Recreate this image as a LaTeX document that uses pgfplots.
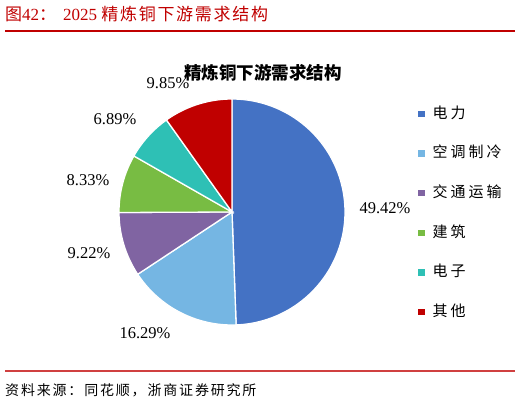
\documentclass[border=0pt]{standalone}
\usepackage{fontspec}
\setmainfont{Liberation Serif}
\newfontfamily\cjk{Noto Sans CJK SC}
\newfontfamily\cjkt{Noto Sans CJK SC}[LetterSpace=10]
\newfontfamily\cjkl{Noto Sans CJK SC}[LetterSpace=20]
\newfontfamily\cjks{Noto Sans CJK SC}[LetterSpace=13]
\usepackage{pgfplots}
\usepackage{pgfplotstable}
\pgfplotsset{compat=1.18}

\definecolor{c0}{HTML}{4472C4}
\definecolor{c1}{HTML}{75B6E3}
\definecolor{c2}{HTML}{8064A2}
\definecolor{c3}{HTML}{78BC43}
\definecolor{c4}{HTML}{2EC0B5}
\definecolor{c5}{HTML}{C00000}
\definecolor{zsred}{HTML}{C00000}

% share in %, clockwise from 12 o'clock
\pgfplotstableread{
name share
电力 49.42
空调制冷 16.29
交通运输 9.22
建筑 8.33
电子 6.89
其他 9.85
}\piedata

\begin{document}
\begin{tikzpicture}
% start/end angle of every slice
\def\cum{0}
\pgfplotsforeachungrouped \i in {0,...,5}{%
  \pgfplotstablegetelem{\i}{share}\of\piedata
  \let\val\pgfplotsretval
  \pgfmathsetmacro\pieHi{90-3.6*\cum}
  \pgfmathsetmacro\cum{\cum+\val}
  \pgfmathsetmacro\pieLo{90-3.6*\cum}
  \expandafter\let\csname pielo\i\endcsname\pieLo
  \expandafter\let\csname piehi\i\endcsname\pieHi
}
\begin{axis}[
  width=520bp, height=403bp, scale only axis,
  xmin=0, xmax=520, ymin=0, ymax=403,
  hide axis, clip=false,
  legend cell align=left,
  legend style={at={(axis cs:418,296)}, anchor=north west,
    draw=none, fill=none, inner sep=0pt, row sep=25.6bp,
    font=\fontsize{15bp}{15bp}\cjkl,
    nodes={inner sep=0pt, text height=11bp, text depth=3bp},
    /tikz/every odd column/.append style={column sep=8bp}},
  legend image code/.code={\fill[#1,draw=none] (0bp,-3bp) rectangle (6.5bp,3.5bp);},
]
\path (axis cs:0,0) rectangle (axis cs:520,403);

\pgfplotsinvokeforeach{0,...,5}{
  \pgfmathsetmacro\lo{\csname pielo#1\endcsname}
  \pgfmathsetmacro\hi{\csname piehi#1\endcsname}
  \addplot[fill=c#1, draw=white, line width=1.3bp, domain=\lo:\hi,
    samples=90, variable=\t]
    ({232+113*cos(\t)}, {191+113*sin(\t)}) -- (axis cs:232,191) -- cycle;
  \pgfplotstablegetelem{#1}{name}\of\piedata
  \addlegendentryexpanded{\pgfplotsretval}
}

% data labels
\begin{scope}[every node/.style={font=\fontsize{16.5bp}{18bp}\selectfont, inner sep=0pt}]
\node at (axis cs:385,195) {49.42\%};
\node at (axis cs:145,70) {16.29\%};
\node at (axis cs:89,150) {9.22\%};
\node at (axis cs:88,223) {8.33\%};
\node at (axis cs:115,284) {6.89\%};
\node at (axis cs:168,320) {9.85\%};
\end{scope}

% chart title
\node[font=\fontsize{17.5bp}{18bp}\cjk\bfseries] at (axis cs:263,330) {精炼铜下游需求结构};

% figure caption and source
\node[anchor=base west, inner sep=0pt, text=zsred, font=\fontsize{17bp}{18bp}\selectfont]
  at (axis cs:5,382) {{\cjkt 图}42{\cjk ：}\hspace{7bp}2025 {\cjkt 精炼铜下游需求结构}};
\draw[zsred, line width=1.2bp] (axis cs:5,372) -- (axis cs:515,372);
\draw[zsred!75, line width=1.2bp] (axis cs:5,32) -- (axis cs:515,32);
\node[anchor=base west, inner sep=0pt, font=\fontsize{14bp}{15bp}\cjks]
  at (axis cs:5,8) {资料来源：同花顺，浙商证券研究所};
\end{axis}
\end{tikzpicture}
\end{document}
